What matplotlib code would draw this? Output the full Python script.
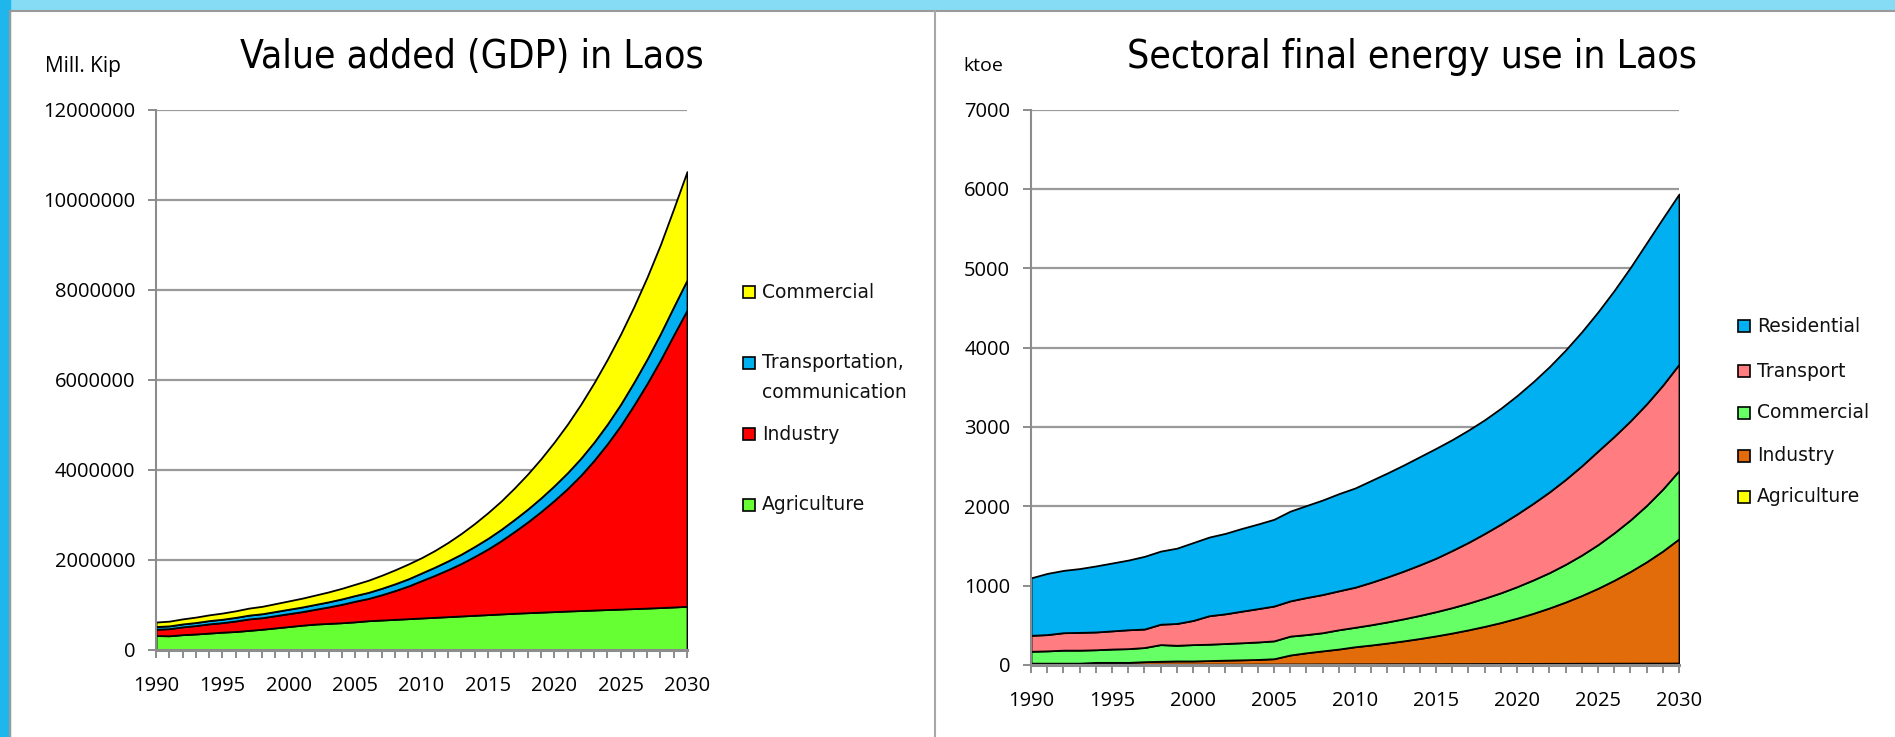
import matplotlib
matplotlib.use("Agg")
from matplotlib import pyplot as plt
from matplotlib.lines import Line2D
from matplotlib.patches import Rectangle
from matplotlib.ticker import MultipleLocator

years = list(range(1990, 2031))

# value added, Mill. Kip (read in thousands, scaled below)
gdp_agriculture = [310, 305, 330, 345, 365, 385, 400, 425, 450, 480, 510, 540, 565, 580, 595, 615,
                   640, 655, 670, 685, 700, 715, 730, 745, 760, 775, 790, 805, 818, 830, 842, 855,
                   866, 877, 888, 898, 909, 920, 932, 945, 960]
gdp_industry = [140, 158, 173, 187, 205, 212, 234, 255, 257, 272, 287, 301, 329, 366, 410, 458,
                495, 562, 639, 725, 830, 933, 1045, 1167, 1308, 1458, 1628, 1817, 2017, 2235, 2471,
                2723, 3006, 3328, 3685, 4079, 4524, 4995, 5503, 6048, 6580]
gdp_transport = [60, 62, 65, 68, 72, 76, 80, 84, 88, 93, 98, 103, 108, 114, 120, 127, 135, 143,
                 151, 160, 170, 182, 195, 208, 222, 237, 252, 268, 285, 305, 327, 352, 378, 405,
                 437, 473, 507, 545, 585, 627, 670]
gdp_commercial = [100, 105, 112, 120, 128, 137, 146, 156, 165, 175, 185, 196, 208, 220, 235, 250,
                  270, 290, 310, 330, 340, 370, 410, 460, 510, 570, 630, 700, 780, 870, 970, 1080,
                  1200, 1320, 1440, 1560, 1680, 1820, 1980, 2180, 2410]

# final energy use, ktoe
en_agriculture = [8, 8, 8, 8, 9, 9, 9, 10, 10, 10, 10, 11, 11, 11, 12, 12, 13, 13, 14, 14, 15, 15,
                  16, 16, 17, 17, 18, 18, 19, 19, 20, 20, 21, 21, 22, 22, 23, 23, 24, 24, 25]
en_industry = [15, 15, 15, 15, 24, 24, 24, 32, 37, 41, 41, 45, 50, 54, 58, 67, 113, 141, 164, 187,
               215, 237, 261, 288, 317, 350, 385, 425, 468, 516, 570, 631, 698, 773, 854, 945,
               1045, 1156, 1277, 1413, 1565]
en_commercial = [150, 155, 164, 164, 159, 168, 173, 178, 210, 197, 206, 206, 210, 215, 220, 225,
                 238, 229, 229, 243, 245, 255, 266, 278, 291, 305, 320, 337, 355, 375, 397, 421,
                 445, 475, 510, 550, 598, 650, 710, 780, 860]
en_transport = [201, 205, 220, 224, 224, 229, 238, 233, 257, 275, 304, 359, 374, 398, 420, 439,
                444, 467, 481, 491, 505, 535, 567, 601, 637, 674, 720, 765, 815, 865, 915, 965,
                1017, 1070, 1125, 1180, 1215, 1248, 1280, 1310, 1340]
en_residential = [724, 771, 785, 804, 832, 855, 878, 916, 921, 949, 981, 991, 1014, 1042, 1066,
                  1093, 1131, 1159, 1191, 1224, 1250, 1283, 1310, 1337, 1363, 1384, 1397, 1415,
                  1433, 1460, 1493, 1533, 1579, 1631, 1689, 1753, 1839, 1933, 2029, 2103, 2145]

W, H = 1895, 737
GREY = "#8c8c8c"

plt.rcParams["font.family"] = ["Open Sans", "DejaVu Sans"]


def px(x, y):
    return x / W, 1 - y / H


def style_axes(ax, ymax, ystep):
    ax.set_xlim(1990, 2030)
    ax.set_ylim(0, ymax)
    ax.yaxis.set_major_locator(MultipleLocator(ystep))
    ax.xaxis.set_major_locator(MultipleLocator(5))
    ax.xaxis.set_minor_locator(MultipleLocator(1))
    ax.grid(axis="y", color="#9a9a9a", linewidth=1.6)
    ax.set_axisbelow(True)
    for s in ("top", "right"):
        ax.spines[s].set_visible(False)
    ax.spines["left"].set_color(GREY)
    ax.spines["left"].set_linewidth(1.5)
    ax.spines["bottom"].set_color(GREY)
    ax.spines["bottom"].set_linewidth(2.2)
    ax.tick_params(axis="y", length=6, width=1.4, color=GREY, pad=9, labelsize=14.5)
    ax.tick_params(axis="x", which="both", length=6, width=1.4, color=GREY, pad=13,
                   labelsize=14.5)
    ax.yaxis.set_major_formatter(plt.FuncFormatter(lambda v, p: "%d" % v))


def legend_box(fig, x, y, color, lines):
    fx, fy = px(x, y)
    fig.patches.append(Rectangle((fx, fy - 6 / H), 12 / W, 12 / H, transform=fig.transFigure,
                                 facecolor=color, edgecolor="black", linewidth=1.2))
    for i, t in enumerate(lines):
        tx, ty = px(x + 19, y + i * 30)
        fig.text(tx, ty, t, family="DejaVu Sans", fontsize=13.5, va="center", ha="left",
                 color="#111111")


def title(fig, x, text):
    fig.text(*px(x, 68), text, family="DejaVu Sans", fontstretch="condensed", fontsize=28,
             ha="center", va="baseline")


fig = plt.figure(figsize=(W / 100, H / 100), dpi=100)

# slide frame
fig.patches.append(Rectangle((0, 1 - 10 / H), 1, 10 / H, transform=fig.transFigure,
                             color="#86dcf4", zorder=-5))
fig.patches.append(Rectangle((0, 0), 10 / W, 1, transform=fig.transFigure,
                             color="#1fb6ee", zorder=-5))
fig.add_artist(Line2D([10 / W, 1], [1 - 11 / H] * 2, color="#9a9a9a", linewidth=1.5))
fig.add_artist(Line2D([10 / W] * 2, [0, 1 - 11 / H], color="#9a9a9a", linewidth=1.5))
fig.add_artist(Line2D([935 / W] * 2, [0, 1 - 11 / H], color="#a8a8a8", linewidth=1.5))

# left: value added
ax1 = fig.add_axes([156 / W, 1 - 649.5 / H, 531 / W, 540 / H])
ax1.stackplot(years,
              [v * 1000 for v in gdp_agriculture], [v * 1000 for v in gdp_industry],
              [v * 1000 for v in gdp_transport], [v * 1000 for v in gdp_commercial],
              colors=["#66ff33", "#ff0000", "#00b0f0", "#ffff00"],
              edgecolor="black", linewidth=1.3)
style_axes(ax1, 12000000, 2000000)

title(fig, 472, "Value added (GDP) in Laos")
fig.text(*px(45, 72), "Mill. Kip", fontsize=15, ha="left", va="baseline")

legend_box(fig, 743, 292, "#ffff00", ["Commercial"])
legend_box(fig, 743, 363, "#00b0f0", ["Transportation,", "communication"])
legend_box(fig, 743, 434, "#ff0000", ["Industry"])
legend_box(fig, 743, 505, "#66ff33", ["Agriculture"])

# right: final energy use
ax2 = fig.add_axes([1031 / W, 1 - 665 / H, 648 / W, 555.5 / H])
ax2.stackplot(years, en_agriculture, en_industry, en_commercial, en_transport, en_residential,
              colors=["#ffff00", "#e36c0a", "#66ff66", "#ff7c80", "#00b0f0"],
              edgecolor="black", linewidth=1.3)
style_axes(ax2, 7000, 1000)

title(fig, 1412, "Sectoral final energy use in Laos")
fig.text(*px(963, 71), "ktoe", fontsize=14, ha="left", va="baseline")

legend_box(fig, 1738, 326, "#00b0f0", ["Residential"])
legend_box(fig, 1738, 371, "#ff7c80", ["Transport"])
legend_box(fig, 1738, 413, "#66ff66", ["Commercial"])
legend_box(fig, 1738, 456, "#e36c0a", ["Industry"])
legend_box(fig, 1738, 497, "#ffff00", ["Agriculture"])

plt.savefig("out.png", dpi=100)
plt.close()
